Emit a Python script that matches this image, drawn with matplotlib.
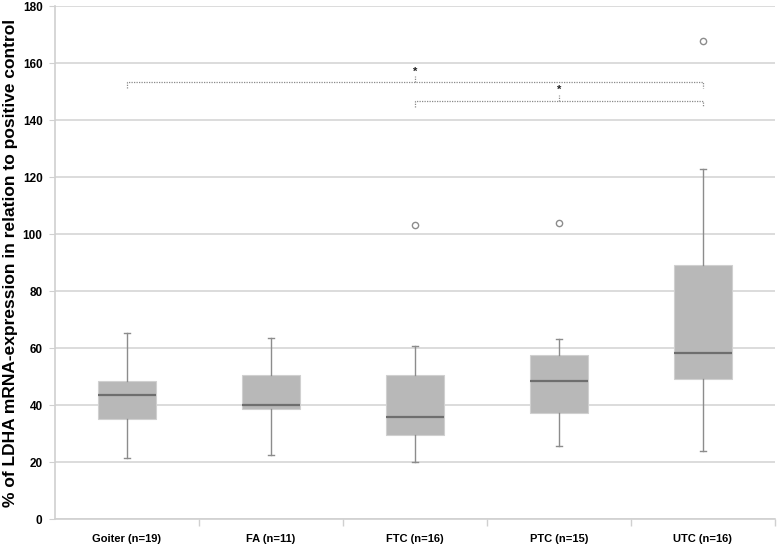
import matplotlib
matplotlib.use("Agg")
import matplotlib.pyplot as plt

# ---------- data ------------------------------------------------------------
categories = ["Goiter (n=19)", "FA (n=11)", "FTC (n=16)", "PTC (n=15)", "UTC (n=16)"]
whislo = [21.3, 22.6, 20.0, 25.6, 23.9]
q1 = [35.0, 38.5, 29.5, 37.3, 49.3]
med = [43.4, 40.0, 35.9, 48.4, 58.4]
q3 = [48.5, 50.6, 50.5, 57.5, 89.2]
whishi = [65.4, 63.7, 60.6, 63.3, 122.8]
fliers = [[], [], [103.3], [104.0], [167.7]]

# significance brackets: (left group, right group, height, star label)
brackets = [(1, 5, 153.3, "*"), (3, 5, 146.7, "*")]

plt.rcParams['font.family'] = ['Liberation Sans', 'DejaVu Sans']
plt.rcParams['font.weight'] = 'bold'

fig = plt.figure(figsize=(7.78, 5.45), dpi=100)
ax = fig.add_axes([0.0707, 0.0477, 0.9253, 0.941])

stats = []
for i, name in enumerate(categories):
    stats.append(dict(label=name, whislo=whislo[i], q1=q1[i], med=med[i],
                      q3=q3[i], whishi=whishi[i], fliers=fliers[i]))

ax.bxp(stats, positions=range(1, 6), widths=0.4, patch_artist=True,
       capwidths=0.04,
       boxprops=dict(facecolor='#b8b8b8', edgecolor='#d0d0d0', linewidth=0.8),
       medianprops=dict(color='#6e6e6e', linewidth=1.6),
       whiskerprops=dict(color='#8c8c8c', linewidth=1.0),
       capprops=dict(color='#8c8c8c', linewidth=1.0),
       flierprops=dict(marker='o', markerfacecolor='white',
                       markeredgecolor='#8c8c8c', markersize=4.5,
                       markeredgewidth=1.0))

# ---------- brackets --------------------------------------------------------
for x0, x1, h, lab in brackets:
    ax.plot([x0, x0, x1, x1], [h - 2.2, h, h, h - 2.2], ls=(0, (1, 1)),
            color='#8a8a8a', lw=0.9, zorder=3)
    xm = 0.5 * (x0 + x1)
    ax.plot([xm, xm], [h, h + 2.2], ls=(0, (1, 1)), color='#8a8a8a', lw=0.9)
    ax.text(xm, h + 2.0, lab, ha='center', va='bottom', fontsize=8,
            color='#222222', fontweight='bold')

# ---------- axes styling ----------------------------------------------------
ax.set_xlim(0.5, 5.5)
ax.set_ylim(0, 180)
ax.set_yticks(range(0, 181, 20))
ax.yaxis.grid(True, color='#d9d9d9', lw=1.3)
ax.set_axisbelow(True)

for s in ['top', 'right']:
    ax.spines[s].set_visible(False)
ax.spines['left'].set_color('#d0d0d0')
ax.spines['bottom'].set_color('#d0d0d0')
ax.spines['left'].set_linewidth(1.2)
ax.spines['bottom'].set_linewidth(1.2)

ax.set_xticks([1, 2, 3, 4, 5])
ax.set_xticklabels(categories)
ax.tick_params(axis='x', length=0, labelsize=8, pad=11)
ax.set_xticks([1.5, 2.5, 3.5, 4.5, 5.5], minor=True)
ax.tick_params(axis='x', which='minor', length=5, color='#d0d0d0', width=1.0)
ax.tick_params(axis='y', length=4, color='#d0d0d0', labelsize=8.5, pad=5)

ax.set_ylabel('% of LDHA mRNA-expression in relation to positive control',
              fontsize=12.5, fontweight='bold', labelpad=3)

fig.savefig('out.png', dpi=100)
